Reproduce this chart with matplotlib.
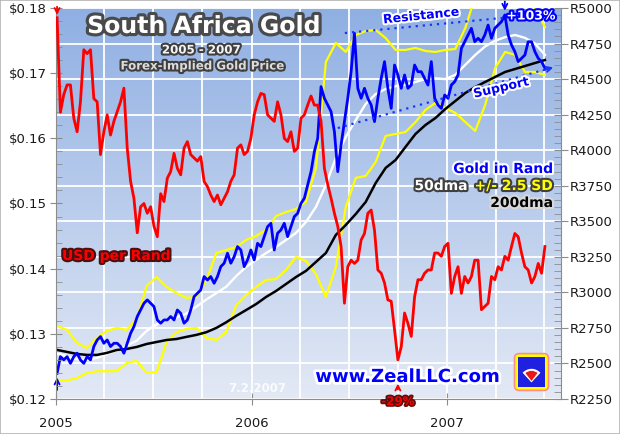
import matplotlib
matplotlib.use('Agg')
import matplotlib.pyplot as plt
import matplotlib.dates as mdates
import matplotlib.patheffects as pe
from matplotlib.colors import LinearSegmentedColormap
from matplotlib.patches import FancyBboxPatch, Rectangle, Wedge
from matplotlib.ticker import MultipleLocator, FuncFormatter
import numpy as np
import pandas as pd

# weekly closes, 2005-01-03 .. 2007-07-02
usd_per_rand = [
    0.1785, 0.1640, 0.1667, 0.1682, 0.1682, 0.1631, 0.1610, 0.1656, 0.1736, 0.1730,
    0.1736, 0.1661, 0.1656, 0.1575, 0.1610, 0.1636, 0.1605, 0.1626, 0.1641, 0.1656,
    0.1677, 0.1585, 0.1534, 0.1508, 0.1455, 0.1495, 0.1500, 0.1485, 0.1495, 0.1465,
    0.1449, 0.1515, 0.1503, 0.1539, 0.1549, 0.1577, 0.1554, 0.1544, 0.1585, 0.1595,
    0.1575, 0.1570, 0.1565, 0.1572, 0.1534, 0.1526, 0.1513, 0.1503, 0.1513,
    0.1498, 0.1508, 0.1518, 0.1534, 0.1544, 0.1585, 0.1590, 0.1575, 0.1580, 0.1600,
    0.1636, 0.1656, 0.1669, 0.1667, 0.1636, 0.1631, 0.1626, 0.1656, 0.1636, 0.1600,
    0.1595, 0.1610, 0.1580, 0.1585, 0.1631, 0.1636, 0.1651, 0.1665, 0.1651, 0.1651,
    0.1626, 0.1554, 0.1529, 0.1508, 0.1485, 0.1465, 0.1434, 0.1347, 0.1403, 0.1413,
    0.1408, 0.1413, 0.1444, 0.1454, 0.1485, 0.1490, 0.1459, 0.1398, 0.1393, 0.1378,
    0.1352,
    0.1350, 0.1306, 0.1260, 0.1280, 0.1332, 0.1316, 0.1296, 0.1357, 0.1383, 0.1383,
    0.1393, 0.1398, 0.1398, 0.1424, 0.1424, 0.1419, 0.1434, 0.1439, 0.1362, 0.1388,
    0.1403, 0.1362, 0.1388, 0.1378, 0.1388, 0.1413, 0.1413, 0.1337, 0.1342, 0.1347,
    0.1388, 0.1383, 0.1403, 0.1398, 0.1419, 0.1413, 0.1434, 0.1454, 0.1449, 0.1424,
    0.1403, 0.1398, 0.1378, 0.1388, 0.1408, 0.1393, 0.1434]

gold_rand = [
    2431, 2548, 2525, 2548, 2501, 2548, 2572, 2525, 2501, 2548,
    2525, 2619, 2665, 2689, 2642, 2665, 2619, 2642, 2642, 2619,
    2572, 2642, 2712, 2759, 2830, 2876, 2923, 2947, 2923, 2900,
    2806, 2783, 2806, 2806, 2830, 2806, 2876, 2853, 2783, 2806,
    2876, 2970, 2994, 3017, 3111, 3087, 3111, 3064, 3111,
    3181, 3205, 3275, 3205, 3251, 3322, 3298, 3181, 3228, 3298,
    3228, 3345, 3322, 3392, 3462, 3486, 3298, 3416, 3439, 3486,
    3392, 3462, 3533, 3556, 3626, 3662, 3755, 3849, 3990, 4083,
    4447, 4365, 4318, 4271, 4130, 3849, 4037, 4201, 4365, 4552,
    4822, 4435, 4365, 4435, 4365, 4318, 4201, 4365, 4505, 4623,
    4435,
    4294, 4599, 4529, 4435, 4529, 4435, 4458, 4599, 4552, 4552,
    4505, 4458, 4623, 4365, 4318, 4294, 4388, 4365, 4458, 4482,
    4529, 4716, 4763, 4810, 4857, 4763, 4787, 4763, 4810, 4880,
    4787, 4857, 4880, 4904, 4951, 4810, 4740, 4693, 4623, 4646,
    4669, 4763, 4763, 4693, 4646, 4623, 4576]

# smoothed lines, read every ~18 days
dma50 = [
    2570, 2550, 2530, 2525, 2540, 2565, 2595, 2625, 2660, 2730,
    2775, 2805, 2825, 2850, 2900, 2950, 2995, 3040, 3115, 3180,
    3228, 3277, 3319, 3369, 3418, 3495, 3601, 3755, 3945, 4093,
    4212, 4325, 4395, 4430, 4450, 4460, 4480, 4500, 4505, 4500,
    4530, 4600, 4670, 4730, 4770, 4795, 4810, 4790, 4750, 4670]

band_hi = [
    2764, 2736, 2644, 2609, 2680, 2729, 2750, 2736, 2813, 3045,
    3108, 3038, 2996, 2961, 2968, 3087, 3277, 3298, 3319, 3369,
    3397, 3439, 3537, 3565, 3587, 3636, 3875, 4620, 4754, 4691,
    4810, 4838, 4845, 4789, 4705, 4705, 4719, 4698, 4691, 4705,
    4712, 4859, 5080, 5200, 5050, 5000, 5100, 5100, 5000, 4866]

band_lo = [
    2384, 2380, 2398, 2433, 2445, 2445, 2447, 2503, 2518, 2433,
    2440, 2651, 2720, 2743, 2750, 2680, 2665, 2722, 2911, 2982,
    3038, 3087, 3094, 3158, 3249, 3221, 3129, 2968, 3179, 3601,
    3805, 3819, 3917, 4100, 4114, 4128, 4198, 4283, 4332, 4297,
    4262, 4198, 4135, 4318, 4578, 4691, 4670, 4550, 4550, 4529]

dma200 = [
    2595, 2581, 2567, 2560, 2560, 2574, 2595, 2602, 2616, 2637,
    2651, 2665, 2672, 2687, 2701, 2720, 2750, 2790, 2835, 2876,
    2918, 2968, 3010, 3059, 3108, 3151, 3214, 3277, 3404, 3474,
    3551, 3636, 3769, 3875, 3931, 4023, 4114, 4177, 4226, 4290,
    4346, 4402, 4444, 4480, 4515, 4550, 4571, 4592, 4613, 4634]

weekly = pd.date_range('2005-01-03', '2007-07-02', periods=len(usd_per_rand))
coarse = pd.date_range('2005-01-03', '2007-07-02', periods=len(dma50))

BLUE = '#0000ff'
RED = '#ff0000'
YEL = '#ffff00'

fig = plt.figure(figsize=(6.2, 4.34), dpi=100)
fig.patch.set_facecolor('white')
ax = fig.add_axes([56/620, 35/434, 505/620, 391/434])
ax2 = ax.twinx()
ax.yaxis.tick_right()
ax2.yaxis.tick_left()

# background gradient
cmap = LinearSegmentedColormap.from_list('bg', ['#e3e9f5', '#8fafe3'])
ax.imshow(np.linspace(0, 1, 256)[:, None], cmap=cmap, origin='lower', aspect='auto',
          extent=[0, 1, 0, 1], transform=ax.transAxes, zorder=0)

# gold in rand (right scale)
ax.plot(coarse, band_hi, color=YEL, lw=1.6, zorder=3)
ax.plot(coarse, band_lo, color=YEL, lw=1.6, zorder=3)
ax.plot(coarse, dma50, color='white', lw=1.7, zorder=3)
ax.plot(coarse, dma200, color='black', lw=1.8, zorder=3)
ax.plot(weekly, gold_rand, color=BLUE, lw=2.0, zorder=4)

# usd per rand (left scale)
ax2.plot(weekly, usd_per_rand, color=RED, lw=2.0, zorder=4)

x0 = pd.Timestamp('2005-01-01')
x1 = pd.Timestamp('2007-08-01')
ax.set_xlim(x0, x1)
ax.set_ylim(2250, 5000)
ax2.set_ylim(0.12, 0.18)

ax.xaxis.set_major_locator(mdates.YearLocator())
ax.xaxis.set_major_formatter(mdates.DateFormatter('%Y'))
ax.xaxis.set_minor_locator(mdates.MonthLocator(bymonth=[1, 4, 7, 10]))
ax.yaxis.set_major_locator(MultipleLocator(250))
ax.yaxis.set_minor_locator(MultipleLocator(50))
ax.yaxis.set_major_formatter(FuncFormatter(lambda v, p: 'R%d' % v))
ax2.yaxis.set_major_locator(MultipleLocator(0.01))
ax2.yaxis.set_minor_locator(MultipleLocator(0.002))
ax2.yaxis.set_major_formatter(FuncFormatter(lambda v, p: '$%.2f' % v))

ax.set_axisbelow(True)
ax.grid(True, which='both', axis='x', color='white', lw=1.3, zorder=1)
ax.grid(True, which='major', axis='y', color='white', lw=1.3, zorder=1)

tc = '#8c8c8c'
ax.tick_params(axis='x', which='major', direction='inout', length=8, color=tc,
               labelsize=9.5, pad=9, labelcolor='#1a1a1a')
ax.tick_params(axis='x', which='minor', length=0)
ax.tick_params(axis='y', which='major', direction='inout', length=10, color=tc,
               labelsize=9.5, pad=1, labelcolor='#1a1a1a')
ax.tick_params(axis='y', which='minor', direction='in', length=5, color=tc)
ax2.tick_params(axis='y', which='major', direction='inout', length=9, color=tc,
                labelsize=9.5, pad=2, labelcolor='#1a1a1a')
ax2.tick_params(axis='y', which='minor', direction='in', length=4, color=tc)

for a in (ax, ax2):
    for s in a.spines.values():
        s.set_color(tc)
    a.spines['top'].set_visible(False)
ax.spines['left'].set_visible(False)
ax2.spines['right'].set_visible(False)
ax2.spines['bottom'].set_visible(False)

# event arrows
arr = dict(arrowstyle='->', lw=1.3, mutation_scale=9)
ax2.annotate('', xy=(weekly[0], usd_per_rand[0]), xytext=(0, 8), textcoords='offset points',
             arrowprops=dict(arr, color=RED, shrinkA=0, shrinkB=2))
ax.annotate('', xy=(weekly[0], gold_rand[0]), xytext=(0, -12), textcoords='offset points',
            arrowprops=dict(arr, color=BLUE, shrinkA=0, shrinkB=3))
ipk = int(np.argmax(gold_rand))
ax.annotate('', xy=(weekly[ipk], gold_rand[ipk]), xytext=(0, 10), textcoords='offset points',
            arrowprops=dict(arr, color=BLUE, shrinkA=0, shrinkB=3))
imn = int(np.argmin(usd_per_rand))
ax2.annotate('-29%', xy=(weekly[imn], usd_per_rand[imn]), xytext=(0, -30),
             textcoords='offset points', ha='center', va='center', color=RED,
             fontsize=8.5, fontweight='bold',
             path_effects=[pe.withStroke(linewidth=2.5, foreground='#5a1010')],
             arrowprops=dict(arr, color=RED, shrinkA=2, shrinkB=17))

# resistance / support channel
dot = dict(color='#1a33ff', lw=1.6, ls=(0, (1, 2.2)), transform=ax2.transAxes, zorder=6)
ax2.plot([0.572, 0.985], [0.936, 0.987], **dot)
ax2.plot([0.558, 0.978], [0.693, 0.846], **dot)
for (xa, ya), (xb, yb) in [((0.97, 0.985), (0.995, 0.990)), ((0.96, 0.839), (0.99, 0.850))]:
    ax2.annotate('', xy=(xb, yb), xytext=(xa, ya), xycoords='axes fraction',
                 arrowprops=dict(arrowstyle='->', color='#1a33ff', lw=1.4, mutation_scale=9))

def label(x, y, s, size, color, edge, ew=3, **kw):
    fig.text(x / 620, 1 - y / 434, s, fontsize=size, color=color, fontweight='bold',
             ha=kw.pop('ha', 'center'), va='center',
             path_effects=[pe.withStroke(linewidth=ew, foreground=edge)], **kw)

label(204, 26, 'South Africa Gold', 17, 'white', '#4a4a4a', ew=4.5)
label(201, 50, '2005 - 2007', 8.5, '#f4f4f4', '#404040')
label(202, 66, 'Forex-Implied Gold Price', 8.5, '#dcdcdc', '#404040')
label(421, 16, 'Resistance', 9, BLUE, 'white', rotation=6)
label(531, 16, '+103%', 9, 'white', BLUE)
label(501, 88, 'Support', 9, BLUE, 'white', rotation=13)
label(553, 169, 'Gold in Rand', 10, BLUE, 'white', ha='right')
label(441, 186, '50dma', 10, 'white', '#404040')
label(553, 186, '+/- 2.5 SD', 10, YEL, '#404040', ha='right')
label(553, 203, '200dma', 10, 'black', '#d8d8d8', ha='right')
label(62, 256, 'USD per Rand', 10, RED, '#4a1010', ha='left')
label(407, 377, 'www.ZealLLC.com', 13, BLUE, 'white', ew=4)
fig.text(257 / 620, 1 - 389 / 434, '7.2.2007', fontsize=8.5, color='white',
         fontweight='bold', alpha=0.85, ha='center', va='center')

# logo
lg = fig.add_axes([513/620, 42/434, 37/620, 40/434])
lg.set_xlim(0, 1)
lg.set_ylim(0, 1)
lg.axis('off')
lg.add_patch(FancyBboxPatch((0.04, 0.04), 0.92, 0.92, boxstyle='round,pad=0,rounding_size=0.12',
                            fc=YEL, ec='#ff8c8c', lw=1.2))
lg.add_patch(Rectangle((0.14, 0.13), 0.72, 0.74, fc='#2020e0', ec='none'))
lg.add_patch(Wedge((0.5, 0.24), 0.34, 45, 135, fc='white', ec='none'))
lg.add_patch(Wedge((0.5, 0.26), 0.28, 50, 130, fc='#e81818', ec='white', lw=0.6))

fig.add_artist(Rectangle((0, 0), 1, 1, transform=fig.transFigure, fill=False,
                         ec='#b4b4b4', lw=1.2))

fig.savefig('out.png', dpi=100)
